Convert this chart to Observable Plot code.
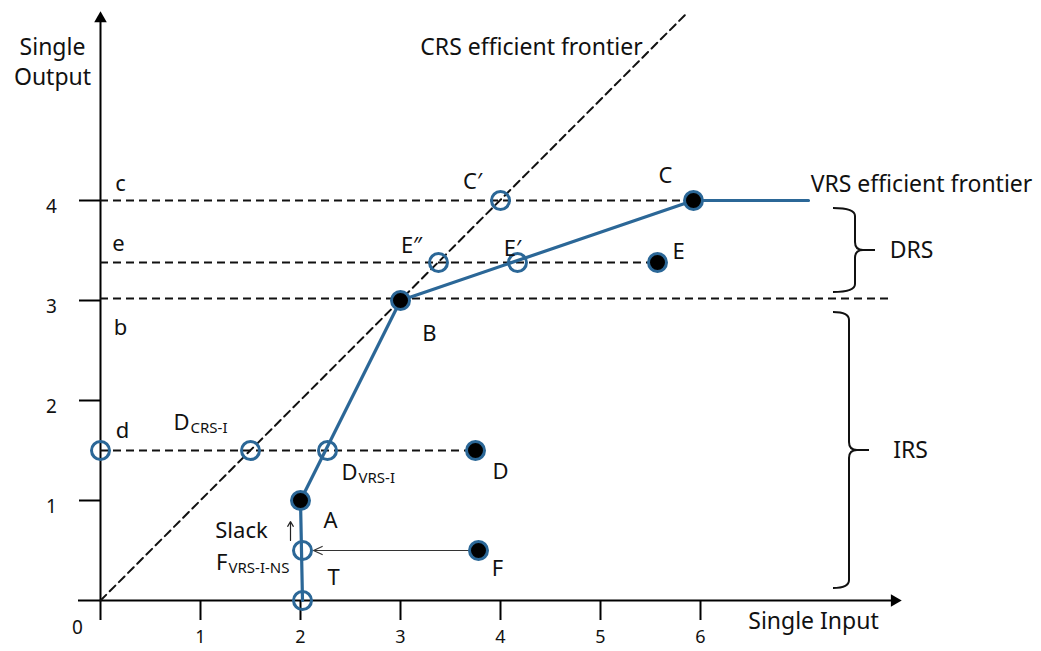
<!DOCTYPE html>
<html><head><meta charset="utf-8">
<script src="https://cdn.jsdelivr.net/npm/d3@7"></script>
<script src="https://cdn.jsdelivr.net/npm/@observablehq/plot@0.6"></script>
<style>body{margin:0;background:#fff} svg{display:block}</style>
</head><body><div id="chart"></div>
<script>
const BLUE = "#2b6797";
const FONT = "Noto Sans";

// axes ticks
const xTicks = [1, 2, 3, 4, 5, 6];
const xTickLabels = ["1", "2", "3", "4", "5", "6"];
const yTicks = [1, 2, 3, 4];
const yTickLabels = ["1", "2", "3", "4"];

// observed DMUs (filled) and projected points (open)
const filledPoints = [
  {name: "A", x: 2, y: 1},
  {name: "B", x: 3, y: 3},
  {name: "C", x: 5.93, y: 4},
  {name: "D", x: 3.75, y: 1.5},
  {name: "E", x: 5.57, y: 3.38},
  {name: "F", x: 3.78, y: 0.5}
];
const openPoints = [
  {name: "C′", x: 4, y: 4},
  {name: "E″", x: 3.38, y: 3.38},
  {name: "E′", x: 4.17, y: 3.38},
  {name: "DCRS-I", x: 1.5, y: 1.5},
  {name: "DVRS-I", x: 2.27, y: 1.5},
  {name: "d", x: 0, y: 1.5},
  {name: "FVRS-I-NS", x: 2.02, y: 0.5},
  {name: "T", x: 2.02, y: 0}
];

// frontiers
const vrsFrontier = [
  {x: 2.02, y: 0}, {x: 2.0, y: 1}, {x: 3, y: 3}, {x: 5.93, y: 4}, {x: 7.08, y: 4}
];
const crsFrontier = [{x: 0, y: 0}, {x: 5.87, y: 5.88}];

// dashed reference levels
const levels = [
  {name: "c", y: 4, xEnd: 7.08},
  {name: "e", y: 3.38, xEnd: 5.57},
  {name: "b", y: 3.02, xEnd: 7.88},
  {name: "d", y: 1.5, xEnd: 3.75}
];

// returns-to-scale braces
const braces = [
  {label: "DRS", y1: 3.08, y2: 3.92, depth: 0.22, lx: 8.11},
  {label: "IRS", y1: 0.12, y2: 2.88, depth: 0.16, lx: 8.1}
];

// text annotations
const pointLabels = [
  {text: "c", x: 0.2, y: 4.17},
  {text: "e", x: 0.18, y: 3.57},
  {text: "b", x: 0.2, y: 2.73},
  {text: "d", x: 0.22, y: 1.7},
  {text: "C′", x: 3.72, y: 4.19},
  {text: "C", x: 5.65, y: 4.25},
  {text: "E″", x: 3.11, y: 3.55},
  {text: "E′", x: 4.12, y: 3.52},
  {text: "E", x: 5.78, y: 3.49},
  {text: "B", x: 3.29, y: 2.67},
  {text: "D", x: 4.0, y: 1.29},
  {text: "A", x: 2.3, y: 0.8},
  {text: "T", x: 2.33, y: 0.23},
  {text: "F", x: 3.97, y: 0.32},
  {text: "Slack", x: 1.41, y: 0.7}
];
const subLabels = [
  {main: "D", sub: "CRS-I", x: 0.89, y: 1.78},
  {main: "D", sub: "VRS-I", x: 2.57, y: 1.28},
  {main: "F", sub: "VRS-I-NS", x: 1.27, y: 0.38}
];
const titles = [
  {text: "CRS efficient frontier", x: 4.31, y: 5.55},
  {text: "VRS efficient frontier", x: 8.21, y: 4.18},
  {text: "Single Input", x: 7.13, y: -0.19},
  {text: "Single\nOutput", x: -0.48, y: 5.4}
];

function braceMark(index, scales) {
  const {x, y} = scales;
  const g = d3.create("svg:g").attr("fill", "none").attr("stroke", "#111").attr("stroke-width", 2);
  for (const b of braces) {
    const x0 = x(7.33), xs = x(7.33 + b.depth), xt = x(7.33 + b.depth + 0.2);
    const yt = y(b.y2), yb = y(b.y1), ym = y((b.y1 + b.y2) / 2), r = 8;
    const p = `M${x0},${yt} Q${xs},${yt} ${xs},${yt + r} L${xs},${ym - r} Q${xs},${ym} ${xs + r},${ym} L${xt},${ym} M${xs + r},${ym} Q${xs},${ym} ${xs},${ym + r} L${xs},${yb - r} Q${xs},${yb} ${x0},${yb}`;
    g.append("path").attr("d", p);
  }
  return g.node();
}

const chart = Plot.plot({
  width: 1041, height: 651,
  marginLeft: 0, marginRight: 0, marginTop: 0, marginBottom: 0,
  x: {domain: [-1, 9.41], axis: null},
  y: {domain: [-0.51, 6], axis: null},
  style: {fontFamily: FONT, background: "#fff", color: "#000"},
  marks: [
    // axes
    Plot.ruleX([0], {y1: -0.2, y2: 5.8, stroke: "#000", strokeWidth: 2}),
    Plot.ruleY([0], {x1: -0.22, x2: 7.92, stroke: "#000", strokeWidth: 2}),
    Plot.dot([{x: 0, y: 5.82}], {x: "x", y: "y", symbol: "triangle2", r: 6, fill: "#000"}),
    Plot.dot([{x: 7.94, y: 0}], {x: "x", y: "y", symbol: "triangle2", r: 6, fill: "#000", rotate: 90}),
    Plot.ruleX(xTicks, {x: d => d, y1: 0, y2: -0.2, stroke: "#000", strokeWidth: 2}),
    Plot.ruleY(yTicks, {y: d => d, x1: -0.21, x2: 0, stroke: "#000", strokeWidth: 2}),
    Plot.text(xTicks, {x: d => d, y: -0.37, text: (d, i) => xTickLabels[i], fontSize: 18, fill: "#111"}),
    Plot.text(yTicks, {x: -0.49, y: d => d, dy: 6, text: (d, i) => yTickLabels[i], fontSize: 19, fill: "#111"}),
    Plot.text([{x: -0.23, y: -0.27}], {x: "x", y: "y", text: () => "0", fontSize: 19, fill: "#111"}),
    // dashed levels and CRS frontier
    Plot.ruleY(levels, {y: "y", x1: 0, x2: "xEnd", stroke: "#111", strokeWidth: 2, strokeDasharray: "8,5"}),
    Plot.line(crsFrontier, {x: "x", y: "y", stroke: "#111", strokeWidth: 2, strokeDasharray: "8,5"}),
    // VRS frontier
    Plot.line(vrsFrontier, {x: "x", y: "y", stroke: BLUE, strokeWidth: 3.2}),
    // arrows
    Plot.arrow([{x1: 3.78, x2: 2.13, y: 0.5}], {x1: "x1", x2: "x2", y1: "y", y2: "y", stroke: "#333", strokeWidth: 1.2, headLength: 12, headAngle: 50}),
    Plot.arrow([{x: 1.9, y1: 0.6, y2: 0.79}], {x1: "x", x2: "x", y1: "y1", y2: "y2", stroke: "#222", strokeWidth: 1.2, headLength: 7, headAngle: 60}),
    // points
    Plot.dot(openPoints, {x: "x", y: "y", r: 9, stroke: BLUE, strokeWidth: 3, fill: "none"}),
    Plot.dot(filledPoints, {x: "x", y: "y", r: 9, stroke: BLUE, strokeWidth: 3, fill: "#000"}),
    // braces
    braceMark,
    Plot.text(braces, {x: "lx", y: d => (d.y1 + d.y2) / 2, text: "label", fontSize: 23, fill: "#111"}),
    // labels
    Plot.text(pointLabels, {x: "x", y: "y", text: "text", fontSize: 22, fill: "#111"}),
    Plot.text(subLabels, {x: "x", y: "y", text: "main", fontSize: 22, textAnchor: "end", fill: "#111"}),
    Plot.text(subLabels, {x: "x", y: "y", text: "sub", fontSize: 15, textAnchor: "start", dx: 1, dy: 6, fill: "#111"}),
    Plot.text(titles, {x: "x", y: "y", text: "text", fontSize: 23, lineHeight: 1.3, fill: "#111"})
  ]
});
document.getElementById("chart").appendChild(chart);
</script>
</body></html>
